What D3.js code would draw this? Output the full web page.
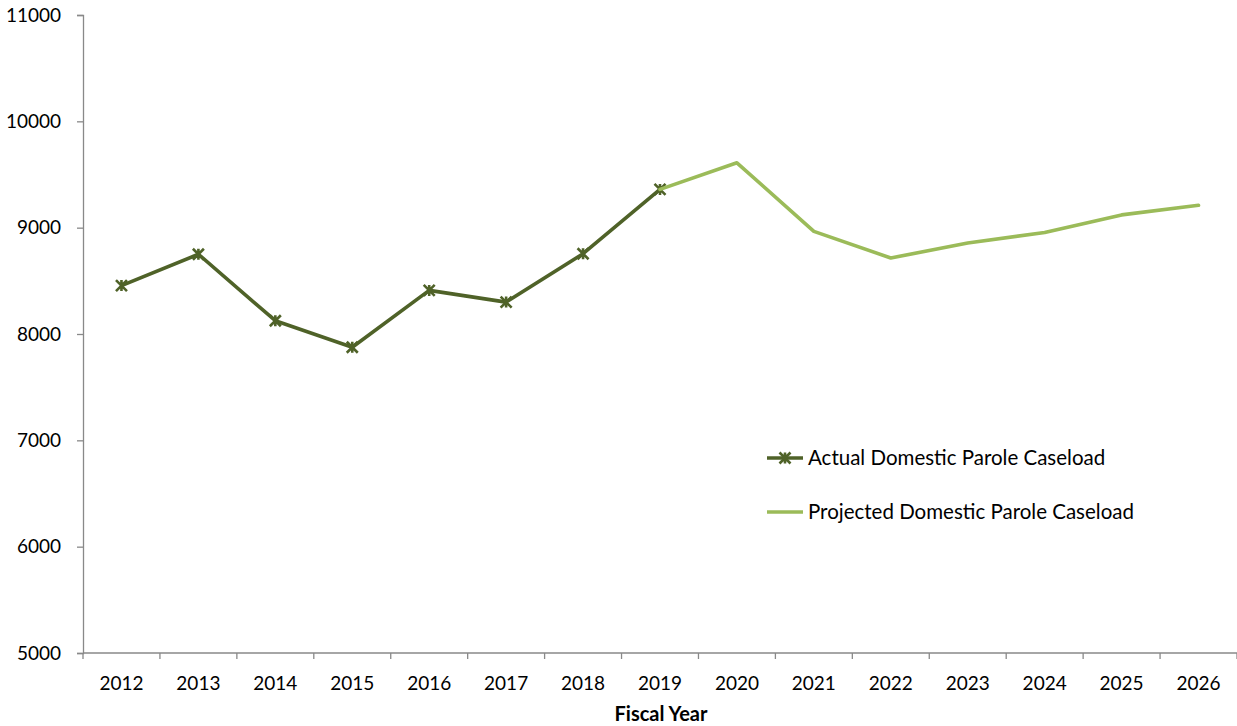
<!DOCTYPE html>
<html>
<head>
<meta charset="utf-8">
<script src="https://cdn.jsdelivr.net/npm/d3@7"></script>
<style>
  html, body { margin: 0; padding: 0; background: #fff; }
  svg text { font-family: Lato, "Open Sans", sans-serif; fill: #000; }
</style>
</head>
<body>
<svg id="chart" width="1237" height="726"></svg>
<script>
// Fiscal years on the category axis
const years = ["2012","2013","2014","2015","2016","2017","2018","2019","2020","2021","2022","2023","2024","2025","2026"];
// Actual caseload, FY2012–FY2019
const actualYears = ["2012","2013","2014","2015","2016","2017","2018","2019"];
const actualValues = [8455, 8750, 8125, 7875, 8410, 8300, 8755, 9360];
// Projected caseload, FY2019–FY2026
const projectedYears = ["2019","2020","2021","2022","2023","2024","2025","2026"];
const projectedValues = [9360, 9610, 8965, 8715, 8855, 8955, 9120, 9210];
// Value axis ticks
const yTicks = [5000, 6000, 7000, 8000, 9000, 10000, 11000];

const svg = d3.select("#chart");
const margin = { left: 83, right: 0, top: 15, bottom: 73 };
const W = 1237, H = 726;

const x = d3.scaleBand().domain(years).range([margin.left, W - margin.right]);
const y = d3.scaleLinear().domain([5000, 11000]).range([H - margin.bottom, margin.top]);

const axisColor = "#898989";

// Value axis
const yAxis = svg.append("g")
  .attr("transform", `translate(${margin.left},0)`)
  .call(d3.axisLeft(y).tickValues(yTicks).tickSize(6).tickPadding(16).tickFormat(d3.format("d")));
yAxis.select(".domain").attr("stroke", axisColor).attr("stroke-width", 1.3);
yAxis.selectAll(".tick line").attr("stroke", axisColor).attr("stroke-width", 1.3);
yAxis.selectAll(".tick text").style("font-size", "19px").attr("fill", "#000");

// Category axis with ticks on band boundaries
const xAxisG = svg.append("g").attr("transform", `translate(0,${y(5000)})`);
xAxisG.append("line")
  .attr("x1", margin.left).attr("x2", W - margin.right)
  .attr("stroke", axisColor).attr("stroke-width", 1.3);
xAxisG.selectAll("line.tk")
  .data(years.concat(["end"]))
  .join("line")
  .attr("class", "tk")
  .attr("x1", (d, i) => i < years.length ? x(d) : x(years[years.length - 1]) + x.bandwidth())
  .attr("x2", (d, i) => i < years.length ? x(d) : x(years[years.length - 1]) + x.bandwidth())
  .attr("y1", 0).attr("y2", 6)
  .attr("stroke", axisColor).attr("stroke-width", 1.3);
xAxisG.selectAll("text")
  .data(years)
  .join("text")
  .attr("x", d => x(d) + x.bandwidth() / 2)
  .attr("y", 30)
  .attr("dy", "0.35em")
  .attr("text-anchor", "middle")
  .style("font-size", "19px")
  .text(d => d);

// Axis title
svg.append("text")
  .attr("x", x("2019") + x.bandwidth() / 2 + 1)
  .attr("y", 714)
  .attr("dy", "0.35em")
  .attr("text-anchor", "middle")
  .style("font-size", "20px")
  .style("font-weight", "bold")
  .text("Fiscal Year");

const cx = d => x(d) + x.bandwidth() / 2;
const line = d3.line().x(d => cx(d.year)).y(d => y(d.value));

const actual = actualYears.map((yr, i) => ({ year: yr, value: actualValues[i] }));
const projected = projectedYears.map((yr, i) => ({ year: yr, value: projectedValues[i] }));

const dark = "#4F6228", light = "#9BBB59";

svg.append("path").datum(actual)
  .attr("d", line).attr("fill", "none")
  .attr("stroke", dark).attr("stroke-width", 3.6).attr("stroke-linejoin", "round");

// Star markers: an X crossed by a vertical stroke
function starPath(s) {
  return `M${-s},${-s}L${s},${s}M${-s},${s}L${s},${-s}M0,${-s}L0,${s}`;
}
svg.append("g").selectAll("path")
  .data(actual)
  .join("path")
  .attr("transform", d => `translate(${cx(d.year)},${y(d.value)})`)
  .attr("d", starPath(5.5))
  .attr("stroke", dark).attr("stroke-width", 2.6).attr("fill", "none");

svg.append("path").datum(projected)
  .attr("d", line).attr("fill", "none")
  .attr("stroke", light).attr("stroke-width", 3.6)
  .attr("stroke-linejoin", "round").attr("stroke-linecap", "round");

// Legend
const legend = svg.append("g");
const items = [
  { label: "Actual Domestic Parole Caseload", color: dark, marker: true, yPos: 458 },
  { label: "Projected Domestic Parole Caseload", color: light, marker: false, yPos: 512 }
];
items.forEach(it => {
  legend.append("line")
    .attr("x1", 767).attr("x2", 803).attr("y1", it.yPos).attr("y2", it.yPos)
    .attr("stroke", it.color).attr("stroke-width", 3.6);
  if (it.marker) {
    legend.append("path")
      .attr("transform", `translate(785,${it.yPos})`)
      .attr("d", starPath(5.5))
      .attr("stroke", it.color).attr("stroke-width", 2.6).attr("fill", "none");
  }
  legend.append("text")
    .attr("x", 808).attr("y", it.yPos).attr("dy", "0.35em")
    .style("font-size", "20.5px")
    .text(it.label);
});
</script>
</body>
</html>
